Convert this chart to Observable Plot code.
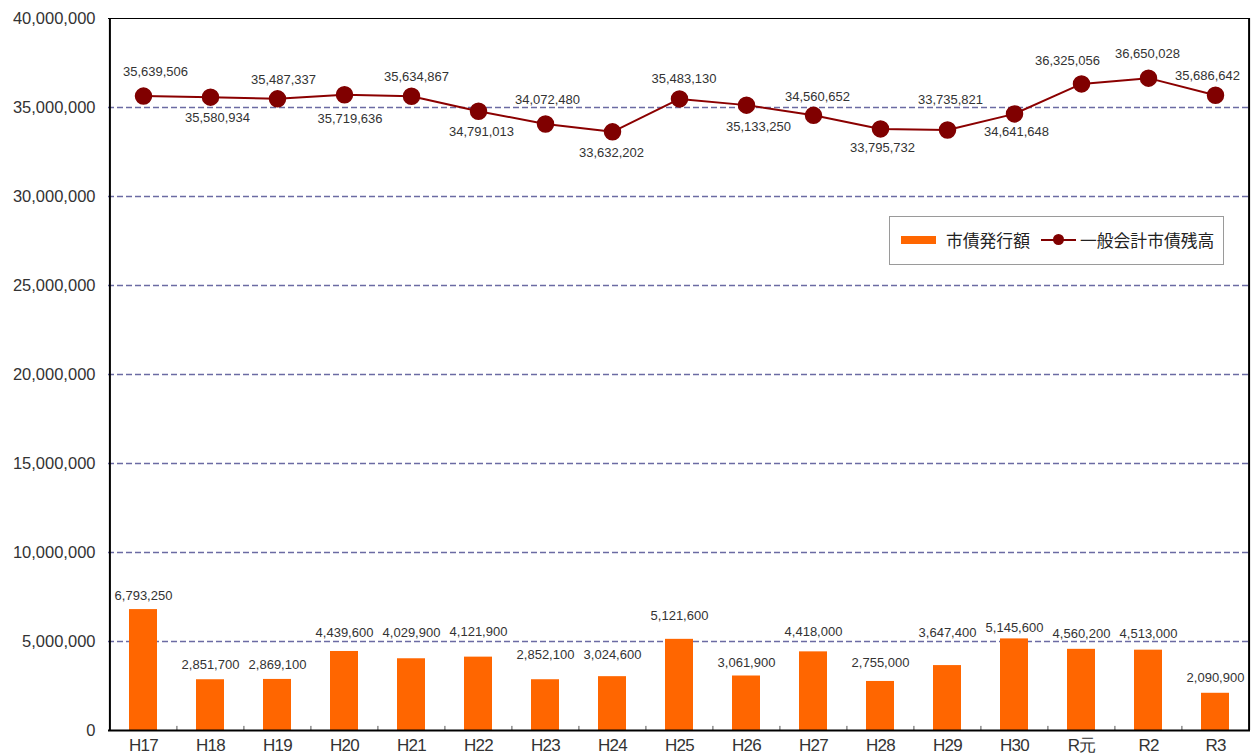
<!DOCTYPE html>
<html><head><meta charset="utf-8">
<script src="https://cdn.jsdelivr.net/npm/d3@7"></script>
<script src="https://cdn.jsdelivr.net/npm/@observablehq/plot@0.6"></script>
<style>
body{margin:0;background:#fff;}
#wrap{position:relative;width:1258px;height:756px;overflow:hidden;}
g[aria-label="bar-label"] text{letter-spacing:-0.6px;}
g[aria-label="x-axis tick label"] text{letter-spacing:-0.8px;}
.legend{position:absolute;left:889px;top:216px;width:335px;height:49px;border:1px solid #9a9a9a;background:#fff;box-sizing:border-box;font-family:"Noto Sans CJK JP",sans-serif;font-size:16.8px;color:#222;}
.legend .sw{position:absolute;left:11px;top:19px;width:35px;height:8px;background:#FF6600;}
.legend .t1{position:absolute;left:56px;top:12px;line-height:22px;}
.legend .ln{position:absolute;left:151px;top:22px;width:35px;height:2px;background:#800000;}
.legend .dt{position:absolute;left:163px;top:17px;width:11px;height:11px;border-radius:50%;background:#800000;}
.legend .t2{position:absolute;left:190px;top:12px;line-height:22px;}
</style></head><body><div id="wrap"></div>
<script>
const categories = ["H17","H18","H19","H20","H21","H22","H23","H24","H25","H26","H27","H28","H29","H30","R元","R2","R3"];
const issuance = [6793250,2851700,2869100,4439600,4029900,4121900,2852100,3024600,5121600,3061900,4418000,2755000,3647400,5145600,4560200,4513000,2090900];
const balance = [35639506,35580934,35487337,35719636,35634867,34791013,34072480,33632202,35483130,35133250,34560652,33795732,33735821,34641648,36325056,36650028,35686642];
const yTicks = [0,5000000,10000000,15000000,20000000,25000000,30000000,35000000,40000000];
const seriesNames = ["市債発行額","一般会計市債残高"];

// layout: hand-placed data-label offsets (pixels) as in the original
const barLabelDy = [-14,-15,-15,-19,-26,-25,-25,-22,-24,-13,-20,-19,-33,-11,-16,-16,-15];
const lineLabelDx = [12,7,6,5.5,5,3,2,-1,4.5,12,4,2,3,2,-14,-1,-8];
const lineLabelDy = [-24,21,-19,24,-19,21,-24,21,-20,22,-18,19,-30,18,-23,-24,-19];

const fmt = d => d.toLocaleString("en-US");
const data = categories.map((c,i)=>({cat:c, issue:issuance[i], bal:balance[i], i}));
const W = 1258, H = 756, mL = 108, mR = 8;
const half = (W - mL - mR) / categories.length / 2;

const chart = Plot.plot({
  width: W, height: H,
  marginLeft: mL, marginRight: mR, marginTop: 18, marginBottom: 26,
  style: {fontFamily: "'Liberation Sans', Arial, sans-serif", background: "white", color: "#333"},
  x: {domain: categories, paddingInner: 0.58, paddingOuter: 0.29, label: null},
  y: {domain: [0, 40000000], label: null},
  marks: [
    Plot.ruleY(yTicks.filter(v => v > 0 && v < 40000000), {stroke: "#6b6ba3", strokeDasharray: "6,3", strokeWidth: 1.3}),
    Plot.barY(data, {x: "cat", y: "issue", fill: "#FF6600"}),
    ...data.map(d => Plot.text([d], {x: "cat", y: "issue", text: e => fmt(e.issue), dy: barLabelDy[d.i], fontSize: 13, fill: "#333", ariaLabel: "bar-label"})),
    Plot.lineY(data, {x: "cat", y: "bal", stroke: "#8B0000", strokeWidth: 2}),
    Plot.dot(data, {x: "cat", y: "bal", r: 8, fill: "#800000", stroke: "#800000"}),
    ...data.map(d => Plot.text([d], {x: "cat", y: "bal", text: e => fmt(e.bal), dx: lineLabelDx[d.i], dy: lineLabelDy[d.i], fontSize: 13, fill: "#333"})),
    Plot.ruleX(categories.slice(1), {x: d => d, dx: -half, y1: 0, y2: 230000, stroke: "#555", strokeWidth: 1}),
    Plot.ruleY([40000000], {stroke: "#000", strokeWidth: 1.2}),
    Plot.ruleX([categories[0]], {dx: -half, stroke: "#000", strokeWidth: 2}),
    Plot.ruleX([categories[categories.length - 1]], {dx: half, stroke: "#000", strokeWidth: 2}),
    Plot.ruleY([0], {stroke: "#000", strokeWidth: 2.2}),
    Plot.axisY({ticks: yTicks, tickSize: 0, tickPadding: 13, tickFormat: fmt, fontSize: 16.5, label: null}),
    Plot.axisX({tickSize: 0, tickPadding: 8, fontSize: 17, label: null})
  ]
});
const wrap = document.getElementById("wrap");
wrap.appendChild(chart);
const lg = document.createElement("div");
lg.className = "legend";
lg.innerHTML = `<div class="sw"></div><div class="t1">${seriesNames[0]}</div><div class="ln"></div><div class="dt"></div><div class="t2">${seriesNames[1]}</div>`;
wrap.appendChild(lg);
</script>
</body></html>
